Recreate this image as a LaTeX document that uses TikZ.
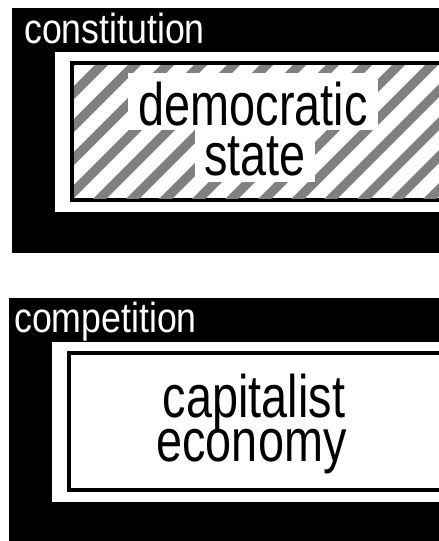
\documentclass[tikz,border=0pt]{standalone}
\usepackage{fontspec}
\setmainfont{Liberation Sans}
\newfontfamily\bigf[FakeStretch=0.78]{Liberation Sans}
\newfontfamily\smallf[FakeStretch=0.85]{Liberation Sans}
\definecolor{stripegray}{HTML}{808080}
\begin{document}
\begin{tikzpicture}[x=1pt,y=-1pt,
  panel/.style={fill=black},
  frame/.style={fill=white},
  innerbox/.style={draw=black,line width=4pt,fill=white},
  stripe/.style={draw=stripegray,line width=9.2pt},
  labeltext/.style={text=white,inner sep=0pt,anchor=base west,font=\smallf\fontsize{42}{42}\selectfont},
  bigtext/.style={text=black,inner sep=0pt,anchor=base,font=\bigf\fontsize{60}{60}\selectfont},
  textbox/.style={bigtext,fill=white}]
\useasboundingbox (0,0) rectangle (439,541);
\fill[white] (0,0) rectangle (439,541);
% ---- top panel
\fill[panel] (12,8) rectangle (439,253);
\fill[frame] (55,52) rectangle (439,212);
\draw[innerbox] (72,63) rectangle (445,200);
\begin{scope}
  \clip (74,65) rectangle (439,198);
  \foreach \k in {-5,...,11}{
    \pgfmathsetmacro{\c}{298.5+33*\k}
    \draw[stripe] (\c-40,40) -- (\c-230,230);
  }
\end{scope}
\node[labeltext] (constitution) at (24,43) {constitution};
\node[textbox,text height=52pt,text depth=5pt,minimum width=250pt] (democratic) at (253,125) {democratic};
\node[textbox,text height=45pt,text depth=7pt,minimum width=120pt] (state) at (255,175) {state};
% ---- bottom panel
\fill[panel] (9,298) rectangle (439,541);
\fill[frame] (52,342) rectangle (439,502);
\draw[innerbox] (69,353) rectangle (445,490);
\node[labeltext] (competition) at (14,332) {competition};
\node[bigtext,text depth=0pt] (capitalist) at (254,417.5) {capitalist};
\node[bigtext,text height=32pt] (economy) at (251.5,461.5) {economy};
\end{tikzpicture}
\end{document}
